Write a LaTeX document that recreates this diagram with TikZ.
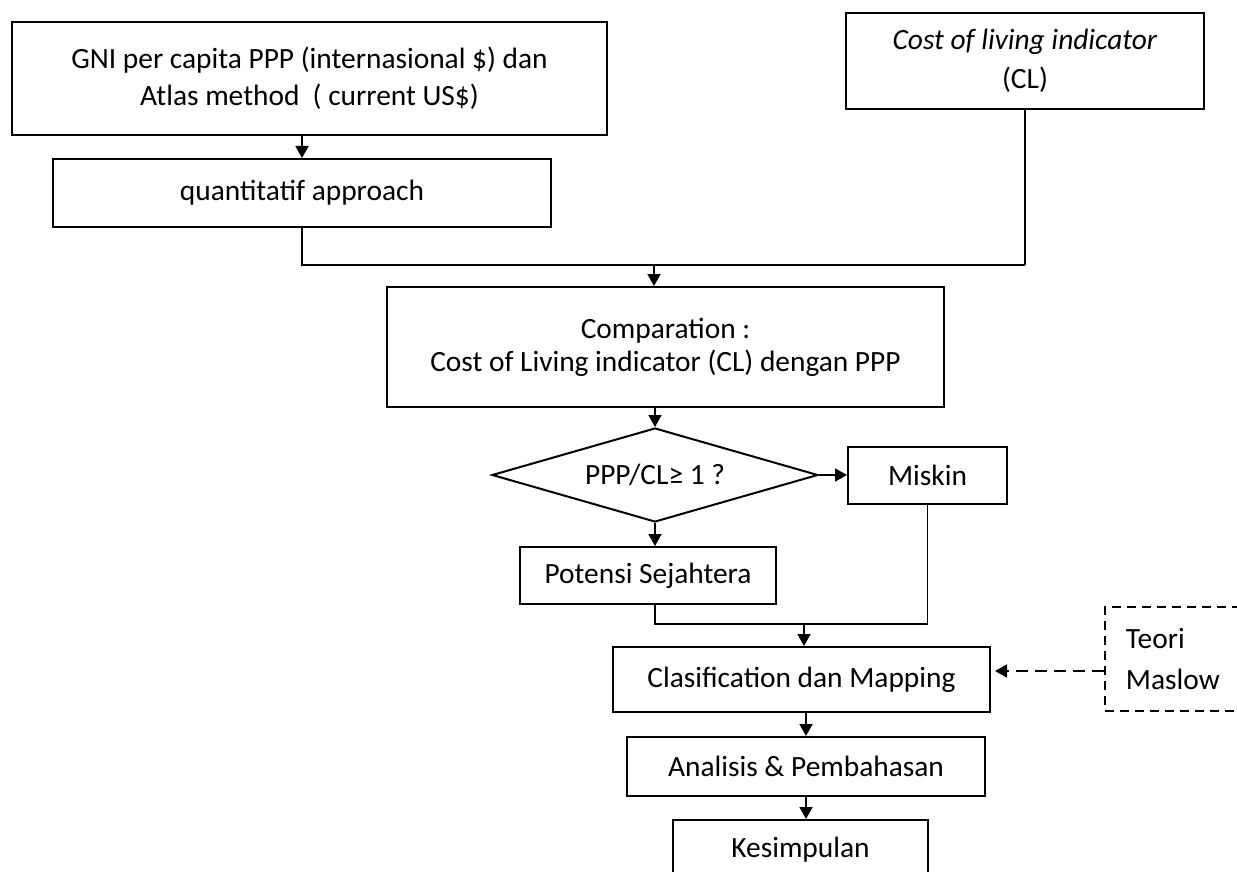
\documentclass[tikz,border=0pt]{standalone}
\usepackage{fontspec}
\setmainfont{Carlito}
\usetikzlibrary{shapes.geometric,arrows.meta}
\tikzset{
  box/.style={draw, line width=1pt, inner sep=0pt, align=center, font=\fontsize{14.7}{18.5}\selectfont},
  conn/.style={line width=0.9pt},
  arr/.style={line width=0.9pt, -{Triangle[length=6pt,width=6.5pt]}},
  dasharr/.style={line width=0.9pt, dash pattern=on 6pt off 3.5pt, shorten >=2pt, -{Triangle[length=6pt,width=6.5pt]}},
}
\begin{document}
\begin{tikzpicture}[x=0.5pt,y=-0.5pt]
\useasboundingbox (0,0) rectangle (1237,872);
\clip (0,0) rectangle (1237,872);
% boxes
\node[box, minimum width=297.5pt, minimum height=56.5pt] (gni) at (309.5,78.5) {GNI per capita PPP (internasional \$) dan\\Atlas method~~( current US\$)};
\node[box, minimum width=249pt, minimum height=34pt] (quant) at (302,193) {quantitatif approach};
\node[box, minimum width=179pt, minimum height=48pt] (cl) at (1025,61) {\textit{Cost of living indicator}\\[1pt](CL)};
\node[box, minimum width=278.5pt, minimum height=60pt] (comp) at (665.5,347) {Comparation :\\[-2pt]Cost of Living indicator (CL) dengan PPP};
\node[box, shape=diamond, shape aspect=3.47, minimum width=163pt, minimum height=47pt] (dia) at (655,475) {PPP/CL≥ 1 ?};
\node[box, minimum width=79.5pt, minimum height=28.5pt] (miskin) at (927.5,475.5) {Miskin};
\node[box, minimum width=128pt, minimum height=28.5pt] (pot) at (648,575.5) {Potensi Sejahtera};
\node[box, minimum width=188.5pt, minimum height=32.5pt] (clas) at (801.5,679.5) {Clasification dan Mapping};
\node[box, line width=0.9pt, dash pattern=on 4.5pt off 3pt, anchor=west, align=left, text width=77pt, inner xsep=10.5pt, minimum height=52pt] (teori) at (1104,659) {Teori\\[2pt]Maslow};
\node[box, minimum width=179pt, minimum height=29.5pt] (anal) at (806,766.5) {Analisis \& Pembahasan};
\node[box, minimum width=127.5pt, minimum height=30pt] (kes) at (800.5,850) {Kesimpulan};
% junction coordinates
\coordinate (j1) at (cl.south |- 0,265);
\coordinate (m1) at (654,265);
\coordinate (j2) at (miskin.south |- 0,624);
\coordinate (m2) at (804,624);
% connectors
\draw[arr] (quant.north |- gni.south) -- (quant.north);
\draw[conn] (quant.south) |- (j1);
\draw[conn] (cl.south) -- (j1);
\draw[arr] (m1) -- (m1 |- comp.north);
\draw[arr] (dia.north |- comp.south) -- (dia.north);
\draw[arr] (dia.east) -- (miskin.west |- dia.east);
\draw[arr] (dia.south) -- (dia.south |- pot.north);
\draw[conn] (dia.south |- pot.south) |- (j2);
\draw[conn] (miskin.south) -- (j2);
\draw[arr] (m2) -- (m2 |- clas.north);
\draw[dasharr] ([yshift=-6pt]teori.west) -- ([yshift=-6pt]teori.west -| clas.east);
\draw[arr] (anal.north |- clas.south) -- (anal.north);
\draw[arr] (anal.south) -- (anal.south |- kes.north);
\end{tikzpicture}
\end{document}
